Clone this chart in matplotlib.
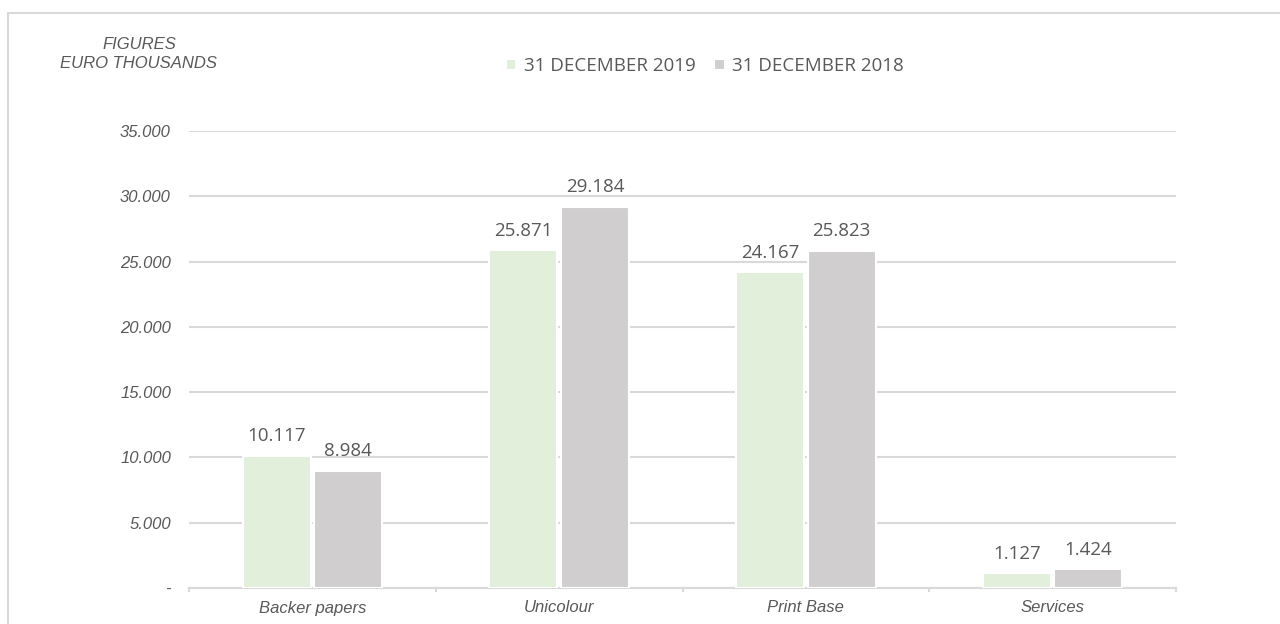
import matplotlib
matplotlib.use("Agg")
import matplotlib.pyplot as plt
from matplotlib.patches import Rectangle
import numpy as np

categories = ["Backer papers", "Unicolour", "Print Base", "Services"]
values_2019 = [10117, 25871, 24167, 1127]
values_2018 = [8984, 29184, 25823, 1424]
series_labels = ["31 DECEMBER 2019", "31 DECEMBER 2018"]
y_ticks = [0, 5000, 10000, 15000, 20000, 25000, 30000, 35000]
y_tick_labels = ["-", "5.000", "10.000", "15.000", "20.000", "25.000", "30.000", "35.000"]

GREEN = "#E2EFDA"
GREY = "#D0CECE"
TEXT = "#595959"
LINE = "#D9D9D9"


def fmt(v):
    return f"{v:,}".replace(",", ".")


fig = plt.figure(figsize=(12.8, 6.24), dpi=100)

# outer frame
fig.patches.append(Rectangle((8 / 1280, -0.05), 1.1, 1 - 13 / 624 + 0.05,
                             transform=fig.transFigure, fill=False,
                             edgecolor="#D9D9D9", linewidth=1.5))

ax = fig.add_axes([189 / 1280, 1 - 588 / 624, (1176 - 189) / 1280, (588 - 131) / 624])

x = np.arange(len(categories))
w = 0.275
off = 0.145
b1 = ax.bar(x - off, values_2019, w, color=GREEN, edgecolor="white", linewidth=1.5,
            label=series_labels[0], zorder=3)
b2 = ax.bar(x + off, values_2018, w, color=GREY, edgecolor="white", linewidth=1.5,
            label=series_labels[1], zorder=3)

for bars, vals in ((b1, values_2019), (b2, values_2018)):
    for rect, v in zip(bars, vals):
        ax.text(rect.get_x() + rect.get_width() / 2, v + 800, fmt(v),
                ha="center", va="bottom", fontsize=13.5, color=TEXT,
                family="Open Sans", zorder=4)

ax.set_xlim(-0.5, len(categories) - 0.5)
ax.set_ylim(0, 35000)
ax.set_yticks(y_ticks)
ax.set_yticklabels(y_tick_labels, fontsize=12, color=TEXT, style="italic",
                   family="Liberation Sans")
ax.set_xticks(x)
ax.set_xticklabels(categories, fontsize=12, color=TEXT, style="italic",
                   family="Liberation Sans")
ax.tick_params(axis="y", length=0, pad=13)
ax.tick_params(axis="x", length=0, pad=9)

# category boundary ticks on the baseline
for b in np.arange(-0.5, len(categories), 1.0):
    ax.plot([b, b], [0, -250], color=LINE, linewidth=1.5, clip_on=False, zorder=2)

ax.grid(axis="y", color=LINE, linewidth=1.5, zorder=1)
ax.set_axisbelow(True)
for s in ("top", "right", "left"):
    ax.spines[s].set_visible(False)
ax.spines["bottom"].set_color(LINE)
ax.spines["bottom"].set_linewidth(1.5)
ax.spines["bottom"].set_zorder(2)

leg = fig.legend(handles=[b1, b2], labels=series_labels, loc="center",
                 bbox_to_anchor=(705 / 1280, 1 - 66 / 624), ncol=2, frameon=False,
                 prop={"family": "Open Sans", "size": 13.5}, handlelength=0.55,
                 handleheight=0.55, handletextpad=0.4, columnspacing=1.0)
for t in leg.get_texts():
    t.set_color(TEXT)

fig.text(139 / 1280, 1 - 54 / 624, "FIGURES\nEURO THOUSANDS", ha="center",
         va="center", fontsize=12, style="italic", color=TEXT,
         family="Liberation Sans", linespacing=1.3)

fig.savefig("out.png", dpi=100, facecolor="white")
